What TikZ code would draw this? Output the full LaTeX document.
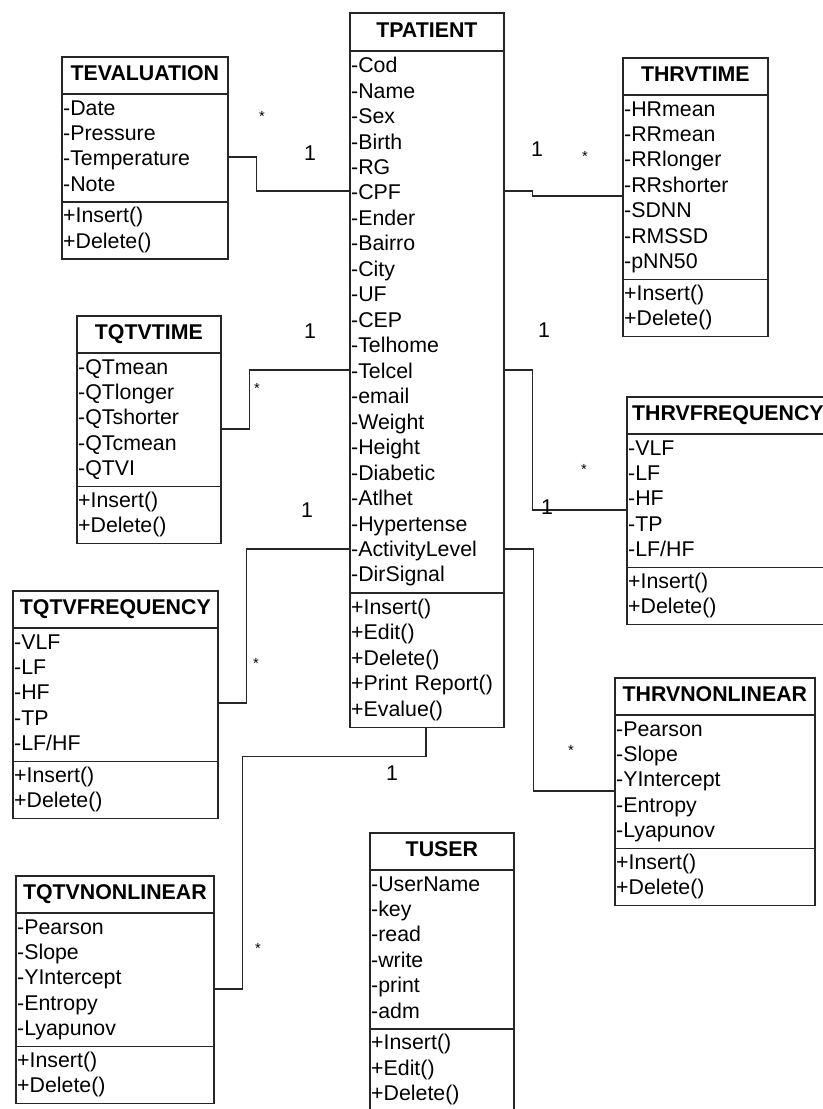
\documentclass[tikz,border=0pt]{standalone}
\usepackage{fontspec}
\setmainfont{Liberation Sans}
\usetikzlibrary{shapes.multipart,calc}

\newcommand{\rowfont}{\fontsize{16}{19.1}\selectfont}
\newcommand{\hd}[1]{{\centering\rule[-8pt]{0pt}{23.5pt}\textbf{#1}\par}}
\newcommand{\lines}[1]{\strut#1\strut}

\begin{document}
\begin{tikzpicture}[x=0.75pt,y=-0.75pt,
  umlclass/.style={draw=black!85, line width=1.3pt, rectangle split, rectangle split parts=3,
    anchor=north west, inner xsep=1pt, inner ysep=1.6pt, align=left, font=\rowfont},
  assoc/.style={draw=black!85, line width=1pt},
  mult/.style={font=\rowfont, inner sep=0pt},
  star/.style={font=\fontsize{11}{13}\selectfont, inner sep=0pt}]

\useasboundingbox (0,0) rectangle (822,1109);

% classes
\node[umlclass, inner ysep=2pt, text width=113.5pt] (pat) at (349,12)
  {\hd{TPATIENT}
   \nodepart{two}\lines{-Cod\\-Name\\-Sex\\-Birth\\-RG\\-CPF\\-Ender\\-Bairro\\-City\\-UF\\-CEP\\-Telhome\\-Telcel\\-email\\-Weight\\-Height\\-Diabetic\\-Atlhet\\-Hypertense\\-ActivityLevel\\-DirSignal}
   \nodepart{three}\lines{+Insert()\\+Edit()\\+Delete()\\+Print Report()\\+Evalue()}};

\node[umlclass, text width=122.5pt] (eva) at (61,56)
  {\hd{TEVALUATION}
   \nodepart{two}\lines{-Date\\-Pressure\\-Temperature\\-Note}
   \nodepart{three}\lines{+Insert()\\+Delete()}};

\node[umlclass, text width=106.75pt] (hrt) at (622,57)
  {\hd{THRVTIME}
   \nodepart{two}\lines{-HRmean\\-RRmean\\-RRlonger\\-RRshorter\\-SDNN\\-RMSSD\\-pNN50}
   \nodepart{three}\lines{+Insert()\\+Delete()}};

\node[umlclass, text width=106pt] (qtt) at (76,315)
  {\hd{TQTVTIME}
   \nodepart{two}\lines{-QTmean\\-QTlonger\\-QTshorter\\-QTcmean\\-QTVI}
   \nodepart{three}\lines{+Insert()\\+Delete()}};

\node[umlclass, text width=149.5pt] (hrf) at (626,396)
  {\hd{THRVFREQUENCY}
   \nodepart{two}\lines{-VLF\\-LF\\-HF\\-TP\\-LF/HF}
   \nodepart{three}\lines{+Insert()\\+Delete()}};

\node[umlclass, text width=151.75pt] (qtf) at (12,590)
  {\hd{TQTVFREQUENCY}
   \nodepart{two}\lines{-VLF\\-LF\\-HF\\-TP\\-LF/HF}
   \nodepart{three}\lines{+Insert()\\+Delete()}};

\node[umlclass, text width=148pt] (hrn) at (614,677)
  {\hd{THRVNONLINEAR}
   \nodepart{two}\lines{-Pearson\\-Slope\\-YIntercept\\-Entropy\\-Lyapunov}
   \nodepart{three}\lines{+Insert()\\+Delete()}};

\node[umlclass, text width=146.5pt] (qtn) at (15,875)
  {\hd{TQTVNONLINEAR}
   \nodepart{two}\lines{-Pearson\\-Slope\\-YIntercept\\-Entropy\\-Lyapunov}
   \nodepart{three}\lines{+Insert()\\+Delete()}};

\node[umlclass, text width=106pt] (usr) at (369,832)
  {\hd{TUSER}
   \nodepart{two}\lines{-UserName\\-key\\-read\\-write\\-print\\-adm}
   \nodepart{three}\lines{+Insert()\\+Edit()\\+Delete()}};

% associations
\draw[assoc] ($(eva.north east)+(0,101)$) -- ++(28,0) |- ($(pat.north west)+(0,179)$);
\draw[assoc] ($(pat.north east)+(0,179)$) -- ++(28,0) |- ($(hrt.north west)+(0,139)$);
\draw[assoc] ($(qtt.north east)+(0,114)$) -- ++(28,0) |- ($(pat.north west)+(0,358)$);
\draw[assoc] ($(pat.north east)+(0,358)$) -- ++(28,0) |- ($(hrf.north west)+(0,114)$);
\draw[assoc] ($(qtf.north east)+(0,113)$) -- ++(28,0) |- ($(pat.north west)+(0,537)$);
\draw[assoc] ($(pat.north east)+(0,537)$) -- ++(29,0) |- ($(hrn.north west)+(0,114)$);
\draw[assoc] ($(pat.south west)+(77,0)$) -- ++(0,28) -| ($(qtn.north east)+(28,114)$)
  -- ($(qtn.north east)+(0,114)$);

% multiplicities
\node[star] (m1) at (262,116) {*};
\node[mult] (m2) at (310,153) {1};
\node[mult] (m3) at (537,149) {1};
\node[star] (m4) at (585,156) {*};
\node[mult] (m5) at (310,331) {1};
\node[star] (m6) at (257,388) {*};
\node[mult] (m7) at (544,330) {1};
\node[star] (m8) at (584,469) {*};
\node[mult] (m9) at (547,507) {1};
\node[mult] (m10) at (307,510) {1};
\node[star] (m11) at (256,663) {*};
\node[star] (m12) at (571,750) {*};
\node[mult] (m13) at (392,773) {1};
\node[star] (m14) at (258,948) {*};

\end{tikzpicture}
\end{document}
